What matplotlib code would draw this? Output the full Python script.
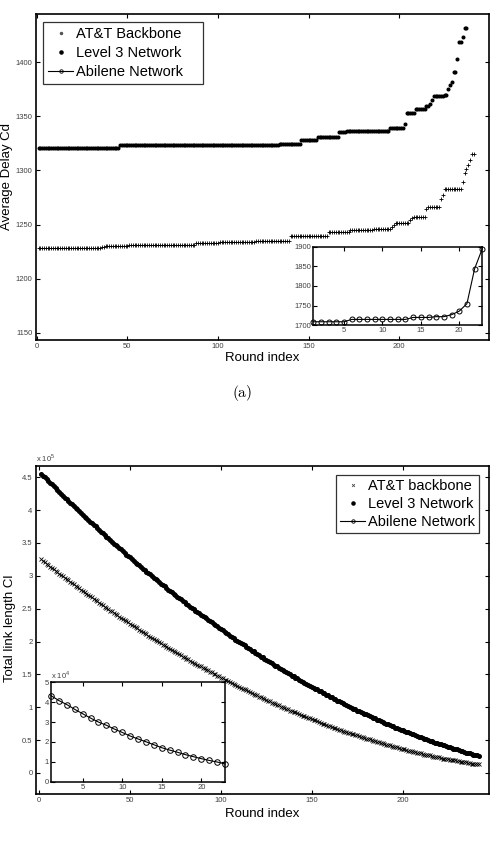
import matplotlib
matplotlib.use("Agg")
import matplotlib.pyplot as plt
from matplotlib.lines import Line2D
from matplotlib.ticker import FormatStrFormatter
import numpy as np

plt.rcParams['font.family'] = ['Liberation Sans', 'DejaVu Sans']
plt.rcParams['mathtext.fontset'] = 'custom'
plt.rcParams['mathtext.rm'] = 'Liberation Sans'

# ---- (a) average delay Cd: staircase as (level, number of rounds) ----
att_delay_levels = [1228, 1229, 1230.3, 1231.5, 1232.8, 1233.6, 1235, 1239.5, 1243.5,
                    1245, 1246, 1248, 1250, 1251.2, 1254, 1256, 1257.4, 1264, 1266.6,
                    1274, 1277, 1282.8, 1289.6, 1297.4, 1301, 1305, 1310, 1315]
att_delay_counts = [35, 2, 13, 37, 13, 20, 19, 21, 12, 13, 10, 1, 1, 8, 1, 1, 7, 1, 7,
                    1, 1, 10, 1, 1, 1, 1, 1, 2]

level3_delay_levels = [1320.5, 1323, 1324.5, 1328.5, 1331, 1335, 1336.5, 1339, 1342.5,
                       1352.5, 1357, 1359.5, 1361, 1365, 1368.5, 1370, 1375, 1379,
                       1381.5, 1391, 1403, 1418.5, 1423, 1431]
level3_delay_counts = [45, 88, 12, 9, 12, 4, 24, 8, 1, 5, 6, 2, 1, 1, 6, 2, 1, 1, 1, 2,
                       1, 2, 1, 2]

abilene_delay = [1709, 1709, 1709, 1709, 1709, 1715, 1715, 1715, 1715, 1715, 1715, 1715,
                 1715, 1720, 1720, 1720, 1722, 1722, 1727, 1736, 1755, 1844, 1895]

# ---- (b) total link length Cl, one value per round (units of 1e5) ----
att_length = [
    3.25, 3.23, 3.21, 3.18, 3.16, 3.14, 3.12, 3.10, 3.08, 3.06,
    3.03, 3.01, 2.99, 2.97, 2.95, 2.93, 2.91, 2.89, 2.87, 2.85,
    2.83, 2.81, 2.79, 2.77, 2.75, 2.73, 2.71, 2.69, 2.67, 2.65,
    2.63, 2.61, 2.59, 2.57, 2.55, 2.53, 2.51, 2.49, 2.47, 2.46,
    2.44, 2.42, 2.40, 2.38, 2.36, 2.34, 2.33, 2.31, 2.29, 2.27,
    2.25, 2.23, 2.22, 2.20, 2.18, 2.16, 2.15, 2.13, 2.11, 2.09,
    2.07, 2.06, 2.04, 2.02, 2.01, 1.99, 1.97, 1.95, 1.94, 1.92,
    1.90, 1.89, 1.87, 1.86, 1.84, 1.82, 1.81, 1.79, 1.77, 1.76,
    1.74, 1.73, 1.71, 1.69, 1.68, 1.66, 1.65, 1.63, 1.62, 1.60,
    1.59, 1.57, 1.56, 1.54, 1.53, 1.51, 1.50, 1.48, 1.47, 1.45,
    1.44, 1.42, 1.41, 1.40, 1.38, 1.37, 1.35, 1.34, 1.32, 1.31,
    1.30, 1.28, 1.27, 1.26, 1.24, 1.23, 1.22, 1.20, 1.19, 1.18,
    1.16, 1.15, 1.14, 1.13, 1.11, 1.10, 1.09, 1.07, 1.06, 1.05,
    1.04, 1.03, 1.01, 1.00, 0.99, 0.98, 0.97, 0.95, 0.94, 0.93,
    0.92, 0.91, 0.90, 0.88, 0.87, 0.86, 0.85, 0.84, 0.83, 0.82,
    0.81, 0.80, 0.79, 0.78, 0.76, 0.75, 0.74, 0.73, 0.72, 0.71,
    0.70, 0.69, 0.68, 0.67, 0.66, 0.65, 0.64, 0.63, 0.62, 0.61,
    0.61, 0.60, 0.59, 0.58, 0.57, 0.56, 0.55, 0.54, 0.53, 0.52,
    0.52, 0.51, 0.50, 0.49, 0.48, 0.47, 0.47, 0.46, 0.45, 0.44,
    0.43, 0.43, 0.42, 0.41, 0.40, 0.40, 0.39, 0.38, 0.37, 0.36,
    0.36, 0.35, 0.34, 0.34, 0.33, 0.32, 0.32, 0.31, 0.30, 0.30,
    0.29, 0.28, 0.28, 0.27, 0.27, 0.26, 0.25, 0.25, 0.24, 0.24,
    0.23, 0.22, 0.22, 0.21, 0.21, 0.20, 0.20, 0.19, 0.19, 0.18,
    0.18, 0.17, 0.17, 0.16, 0.16, 0.15, 0.15, 0.14, 0.14, 0.13,
    0.13, 0.13]

level3_length = [
    4.55, 4.52, 4.50, 4.47, 4.44, 4.41, 4.39, 4.36, 4.33, 4.30,
    4.27, 4.25, 4.22, 4.19, 4.17, 4.14, 4.11, 4.09, 4.06, 4.03,
    4.01, 3.98, 3.95, 3.93, 3.90, 3.88, 3.85, 3.82, 3.80, 3.77,
    3.75, 3.72, 3.70, 3.67, 3.65, 3.62, 3.59, 3.57, 3.54, 3.52,
    3.49, 3.47, 3.45, 3.42, 3.40, 3.37, 3.35, 3.32, 3.30, 3.28,
    3.25, 3.23, 3.20, 3.18, 3.16, 3.13, 3.11, 3.09, 3.06, 3.04,
    3.02, 2.99, 2.97, 2.95, 2.93, 2.90, 2.88, 2.86, 2.84, 2.81,
    2.79, 2.77, 2.75, 2.73, 2.70, 2.68, 2.66, 2.64, 2.62, 2.60,
    2.57, 2.55, 2.53, 2.51, 2.49, 2.47, 2.45, 2.43, 2.41, 2.39,
    2.37, 2.35, 2.33, 2.31, 2.29, 2.27, 2.25, 2.23, 2.21, 2.19,
    2.17, 2.15, 2.13, 2.11, 2.09, 2.07, 2.05, 2.03, 2.01, 1.99,
    1.97, 1.96, 1.94, 1.92, 1.90, 1.88, 1.86, 1.85, 1.83, 1.81,
    1.79, 1.77, 1.76, 1.74, 1.72, 1.70, 1.69, 1.67, 1.65, 1.63,
    1.62, 1.60, 1.58, 1.57, 1.55, 1.53, 1.52, 1.50, 1.48, 1.47,
    1.45, 1.44, 1.42, 1.40, 1.39, 1.37, 1.36, 1.34, 1.33, 1.31,
    1.29, 1.28, 1.27, 1.25, 1.24, 1.22, 1.21, 1.19, 1.18, 1.16,
    1.15, 1.13, 1.12, 1.10, 1.09, 1.08, 1.06, 1.05, 1.03, 1.02,
    1.01, 0.99, 0.98, 0.97, 0.95, 0.94, 0.93, 0.91, 0.90, 0.89,
    0.88, 0.86, 0.85, 0.84, 0.83, 0.81, 0.80, 0.79, 0.78, 0.76,
    0.75, 0.74, 0.73, 0.72, 0.71, 0.69, 0.68, 0.67, 0.66, 0.65,
    0.64, 0.63, 0.62, 0.61, 0.60, 0.59, 0.57, 0.56, 0.55, 0.54,
    0.53, 0.52, 0.51, 0.50, 0.49, 0.48, 0.47, 0.46, 0.45, 0.44,
    0.44, 0.43, 0.42, 0.41, 0.40, 0.39, 0.38, 0.37, 0.36, 0.36,
    0.35, 0.34, 0.33, 0.32, 0.31, 0.31, 0.30, 0.29, 0.28, 0.27,
    0.27, 0.26]

# units of 1e4
abilene_length = [4.33, 4.08, 3.88, 3.64, 3.42, 3.20, 3.00, 2.84, 2.65, 2.48, 2.30, 2.15,
                  2.01, 1.86, 1.71, 1.59, 1.48, 1.36, 1.26, 1.16, 1.07, 0.99, 0.89]

TICK_COLOR = '#404040'


def style_axes(ax, lw=1.2):
    for s in ax.spines.values():
        s.set_linewidth(lw)
    ax.tick_params(direction='in', top=True, right=True, length=3, width=0.8,
                   labelsize=5.5, labelcolor=TICK_COLOR, pad=2.5)


W, H = 496, 844
fig = plt.figure(figsize=(W / 100, H / 100), dpi=100)


def px_axes(left, top, right, bottom):
    return fig.add_axes([left / W, 1 - bottom / H, (right - left) / W, (bottom - top) / H])


# ------------------------- panel (a) -------------------------
att_delay = np.repeat(att_delay_levels, att_delay_counts)
level3_delay = np.repeat(level3_delay_levels, level3_delay_counts)

ax1 = px_axes(36, 14, 489, 340)
ax1.plot(np.arange(1, len(att_delay) + 1), att_delay, ls='none', marker='+',
         ms=3, mew=0.6, color='black')
ax1.plot(np.arange(1, len(level3_delay) + 1), level3_delay, ls='none', marker='.',
         ms=3.8, color='black')
ax1.set_xlim(-0.4, 249.5)
ax1.set_ylim(1143.5, 1444.3)
ax1.set_xticks([0, 50, 100, 150, 200])
ax1.set_yticks([1150, 1200, 1250, 1300, 1350, 1400])
style_axes(ax1)

leg_handles = [
    Line2D([], [], ls='none', marker='.', ms=3, color='#555555'),
    Line2D([], [], ls='none', marker='.', ms=4.5, color='black'),
    Line2D([], [], color='black', lw=0.8, marker='o', ms=2.5, mfc='none', mew=0.6),
]
leg1 = ax1.legend(leg_handles, ['AT&T Backbone', 'Level 3 Network', 'Abilene Network'],
                  loc='upper left', bbox_to_anchor=(0.016, 0.5, 0.353, 0.476),
                  mode='expand', borderaxespad=0, fontsize=10.5, frameon=True,
                  fancybox=False, edgecolor='black', handlelength=1.7,
                  handletextpad=0.2, borderpad=0.35, labelspacing=0.35)
leg1.get_frame().set_linewidth(0.9)

ins1 = px_axes(313.3, 246.7, 482.3, 325.3)
ins1.plot(np.arange(1, len(abilene_delay) + 1), abilene_delay, color='black', lw=0.8,
          marker='o', ms=3.6, mfc='none', mew=0.7, clip_on=False, zorder=5)
ins1.set_xlim(1, 23)
ins1.set_ylim(1700, 1900)
ins1.set_xticks([5, 10, 15, 20])
ins1.set_yticks([1700, 1750, 1800, 1850, 1900])
style_axes(ins1, lw=1.1)
ins1.tick_params(pad=1.5)

fig.text(262 / W, 1 - 358 / H, 'Round index', ha='center', va='center', fontsize=9.5)
fig.text(7 / W, 1 - 177 / H, 'Average Delay Cd', ha='center', va='center',
         rotation=90, fontsize=9.5)
fig.text(242 / W, 1 - 393 / H, r'$\mathrm{(a)}$', ha='center', va='center', fontsize=11,
         math_fontfamily='cm')

# ------------------------- panel (b) -------------------------
ax2 = px_axes(36, 466, 489, 794)
rounds_b = np.arange(1, len(att_length) + 1)
ax2.plot(rounds_b, att_length, ls='none', marker='x', ms=2.3, mew=0.6, color='black')
ax2.plot(np.arange(1, len(level3_length) + 1), level3_length, ls='none', marker='.',
         ms=5.2, color='black')
ax2.set_xlim(-1.8, 247.6)
ax2.set_ylim(-0.32, 4.67)
ax2.set_xticks([0, 50, 100, 150, 200])
ax2.set_yticks([0, 0.5, 1, 1.5, 2, 2.5, 3, 3.5, 4, 4.5])
ax2.yaxis.set_major_formatter(FormatStrFormatter('%g'))
style_axes(ax2)
ax2.text(0.0, 1.006, r'x 10$^5$', transform=ax2.transAxes, ha='left', va='bottom',
         fontsize=5.5, color=TICK_COLOR)

leg_handles2 = [
    Line2D([], [], ls='none', marker='x', ms=2, mew=0.6, color='#444444'),
    Line2D([], [], ls='none', marker='.', ms=4.5, color='black'),
    Line2D([], [], color='black', lw=0.8, marker='o', ms=2.5, mfc='none', mew=0.6),
]
leg2 = ax2.legend(leg_handles2, ['AT&T backbone', 'Level 3 Network', 'Abilene Network'],
                  loc='upper right', bbox_to_anchor=(0.9786, 0.9726), borderaxespad=0,
                  fontsize=10.5, frameon=True, fancybox=False, edgecolor='black',
                  handlelength=1.7, handletextpad=0.2, borderpad=0.3, labelspacing=0.25)
leg2.get_frame().set_linewidth(0.9)

ins2 = px_axes(51, 682.3, 225, 781.7)
ins2.plot(np.arange(1, len(abilene_length) + 1), abilene_length, color='black', lw=0.8,
          marker='o', ms=4, mfc='none', mew=0.7, clip_on=False, zorder=5)
ins2.set_xlim(1, 23)
ins2.set_ylim(0, 5)
ins2.set_xticks([5, 10, 15, 20])
ins2.set_yticks([0, 1, 2, 3, 4, 5])
style_axes(ins2, lw=1.1)
ins2.tick_params(pad=1.5)
ins2.text(0.0, 1.01, r'x 10$^4$', transform=ins2.transAxes, ha='left', va='bottom',
          fontsize=5.5, color=TICK_COLOR)

fig.text(262 / W, 1 - 814 / H, 'Round index', ha='center', va='center', fontsize=9.5)
fig.text(10 / W, 1 - 628 / H, 'Total link length Cl', ha='center', va='center',
         rotation=90, fontsize=9.5)

fig.savefig('out.png', dpi=100)
